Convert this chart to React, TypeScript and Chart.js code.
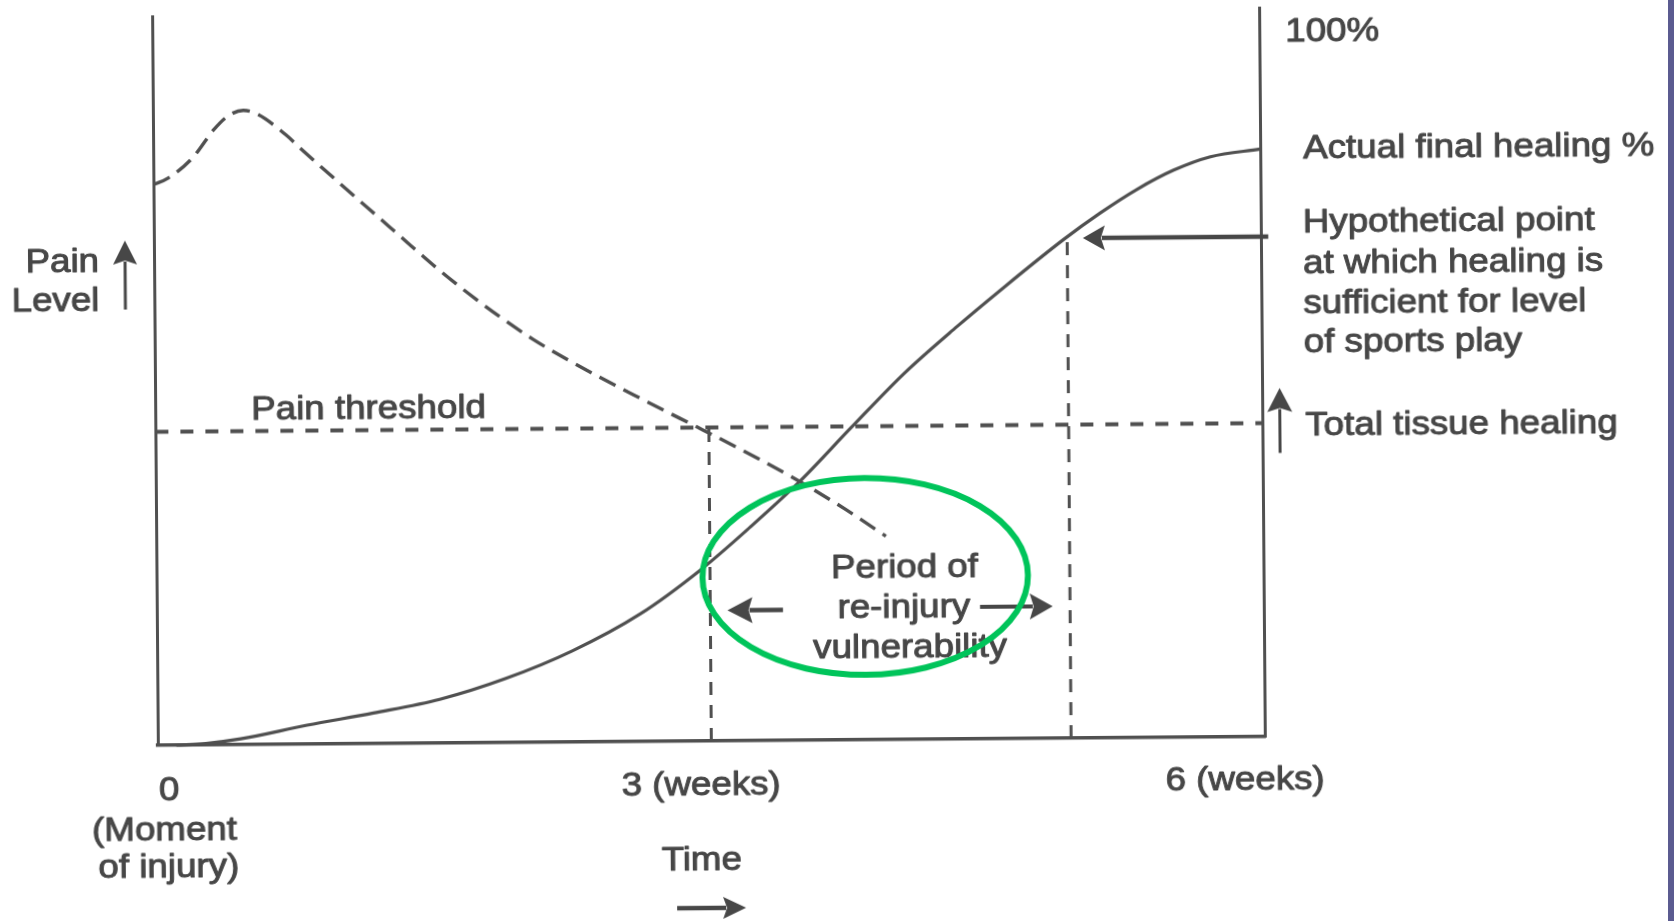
import React, { useEffect, useRef } from 'react';
import { Chart, registerables } from 'chart.js';

Chart.register(...registerables);

// ---- data (weeks on x, level / healing % on y) ----
const painWeeks = [0, 0.08, 0.215, 0.33, 0.41, 0.49, 0.564, 0.72, 0.8, 0.97, 1.156, 1.334, 1.512, 1.695, 1.873, 2.05, 2.234, 2.412, 2.59, 2.773, 2.935, 3.243, 3.49, 3.739, 3.955];
const painLevel = [76.9, 77.8, 80.6, 84.4, 86.3, 87.0, 86.5, 83.6, 81.7, 77.8, 73.6, 69.6, 65.6, 61.8, 58.4, 55.3, 52.5, 50.0, 47.6, 45.2, 43.1, 39.0, 35.5, 31.6, 27.9];

const healWeeks = [0.1, 0.26, 0.45, 0.81, 1.17, 1.53, 1.89, 2.25, 2.62, 2.95, 3.22, 3.49, 3.77, 4.06, 4.35, 4.58, 4.93, 5.13, 5.33, 5.53, 5.73, 6.0];
const healPercent = [0, 0.2, 0.8, 2.6, 4.2, 6.0, 8.8, 12.5, 17.5, 23.5, 29.3, 35.5, 42.8, 50.2, 56.6, 61.4, 68.4, 72.0, 75.2, 77.8, 79.6, 80.6];

const thresholdWeeks = [0, 6];
const thresholdLevel = 43;

const markerWeeks = [3, 4.95];
const markerTops = [43, 68.6];

const hypotheticalLevel = 68.6;
const hypotheticalArrowWeeks = [6.04, 5.035];
const periodArrowLevel = [17.9, 18.1];
const periodArrowLeftWeeks = [3.394, 3.093];
const periodArrowRightWeeks = [4.462, 4.856];
const tissueArrowWeeks = 6.095;
const tissueArrowLevels = [38.9, 47.8];

const ellipseCenter = [3.841, 22.4];
const ellipseRadius = [0.882, 13.5];

// ---- text ----
const xTickLabels = ['0', '3 (weeks)', '6 (weeks)'];
const zeroSubLabels = ['(Moment', 'of injury)'];
const xAxisTitle = 'Time';
const yAxisTitle = ['Pain', 'Level'];
const topLabel = '100%';
const finalLabel = 'Actual final healing %';
const hypoLabel = ['Hypothetical point', 'at which healing is', 'sufficient for level', 'of sports play'];
const tissueLabel = 'Total tissue healing';
const thresholdLabel = 'Pain threshold';
const periodLabel = ['Period of', 're-injury', 'vulnerability'];

// ---- style ----
const INK = '#474747';
const LINE = '#505050';
const FONT = '34px "Liberation Sans", Arial, sans-serif';
const SX = 1.08;

function drawText(ctx: CanvasRenderingContext2D, t: string, x: number, y: number, align: CanvasTextAlign) {
  ctx.save();
  ctx.translate(x, y);
  ctx.scale(SX, 1);
  ctx.font = FONT;
  ctx.fillStyle = INK;
  ctx.strokeStyle = INK;
  ctx.lineWidth = 1;
  ctx.lineJoin = 'round';
  ctx.textAlign = align;
  ctx.textBaseline = 'alphabetic';
  ctx.fillText(t, 0, 0);
  ctx.strokeText(t, 0, 0);
  ctx.restore();
}

function drawArrow(ctx: CanvasRenderingContext2D, x1: number, y1: number, x2: number, y2: number, head: number, half: number, w: number) {
  const ang = Math.atan2(y2 - y1, x2 - x1);
  const c = Math.cos(ang), s = Math.sin(ang);
  const bx = x2 - c * head, by = y2 - s * head;
  ctx.save();
  ctx.strokeStyle = INK;
  ctx.fillStyle = INK;
  ctx.lineWidth = w;
  ctx.beginPath();
  ctx.moveTo(x1, y1);
  ctx.lineTo(bx + c * 3, by + s * 3);
  ctx.stroke();
  ctx.beginPath();
  ctx.moveTo(x2, y2);
  ctx.lineTo(bx - s * half, by + c * half);
  ctx.lineTo(bx + c * 4, by + s * 4);
  ctx.lineTo(bx + s * half, by - c * half);
  ctx.closePath();
  ctx.fill();
  ctx.restore();
}

const annotations = {
  id: 'annotations',
  afterDatasetsDraw(chart: any) {
    const ctx: CanvasRenderingContext2D = chart.ctx;
    const xs = chart.scales.x;
    const ys = chart.scales.y;
    const X = (v: number) => xs.getPixelForValue(v);
    const Y = (v: number) => ys.getPixelForValue(v);

    // axis-side labels
    drawText(ctx, yAxisTitle[0], 100, 267, 'right');
    drawText(ctx, yAxisTitle[1], 100, 306, 'right');
    drawArrow(ctx, 126, 305, 126, 236, 24, 12, 3);

    drawText(ctx, thresholdLabel, 251, 416, 'left');
    drawText(ctx, topLabel, 1288, 46, 'left');
    drawText(ctx, finalLabel, 1305, 163, 'left');
    const hypoY = [237, 278, 318, 357];
    hypoLabel.forEach((t, i) => drawText(ctx, t, 1304, hypoY[i], 'left'));
    drawText(ctx, tissueLabel, 1305, 440, 'left');
    drawArrow(ctx, X(tissueArrowWeeks), Y(tissueArrowLevels[0]), X(tissueArrowWeeks), Y(tissueArrowLevels[1]), 24, 12.5, 3);

    // hypothetical point arrow
    drawArrow(ctx, X(hypotheticalArrowWeeks[0]), Y(hypotheticalLevel), X(hypotheticalArrowWeeks[1]), Y(hypotheticalLevel), 22, 12.5, 4.5);

    // period of re-injury
    const periodPos = [[903, 579], [902, 619], [908, 659]];
    periodLabel.forEach((t, i) => drawText(ctx, t, periodPos[i][0], periodPos[i][1], 'center'));
    drawArrow(ctx, X(periodArrowLeftWeeks[0]), Y(periodArrowLevel[0]), X(periodArrowLeftWeeks[1]), Y(periodArrowLevel[0]), 25, 13, 4.5);
    drawArrow(ctx, X(periodArrowRightWeeks[0]), Y(periodArrowLevel[1]), X(periodArrowRightWeeks[1]), Y(periodArrowLevel[1]), 23, 13, 4);

    // x tick labels
    const tickPos = [[166, 796], [698, 795], [1242, 794]];
    xTickLabels.forEach((t, i) => drawText(ctx, t, tickPos[i][0], tickPos[i][1], 'center'));
    drawText(ctx, zeroSubLabels[0], 161, 836, 'center');
    drawText(ctx, zeroSubLabels[1], 165, 873, 'center');
    drawText(ctx, xAxisTitle, 698, 870, 'center');
    drawArrow(ctx, 673, 908, 742, 908, 23, 11, 4.5);

    // highlight ellipse
    ctx.save();
    ctx.strokeStyle = '#00c45a';
    ctx.lineWidth = 6;
    ctx.beginPath();
    const cx = X(ellipseCenter[0]), cy = Y(ellipseCenter[1]);
    const rx = X(ellipseCenter[0] + ellipseRadius[0]) - cx;
    const ry = cy - Y(ellipseCenter[1] + ellipseRadius[1]);
    ctx.ellipse(cx, cy, rx, ry, 0, 0, Math.PI * 2);
    ctx.stroke();
    ctx.restore();
  },
};

function pts(xa: number[], ya: number[]) {
  return xa.map((x, i) => ({ x, y: ya[i] }));
}

export default function App() {
  const ref = useRef<HTMLCanvasElement | null>(null);
  useEffect(() => {
    if (!ref.current) return;
    const base = { pointRadius: 0, borderColor: LINE, fill: false, clip: false as any };
    const chart = new Chart(ref.current, {
      type: 'line',
      data: {
        datasets: [
          { ...base, label: 'Pain', data: pts(painWeeks, painLevel), borderWidth: 3.4, borderDash: [18, 9], cubicInterpolationMode: 'monotone' },
          { ...base, label: 'Healing', data: pts(healWeeks, healPercent), borderWidth: 3.2, cubicInterpolationMode: 'monotone' },
          { ...base, label: 'Threshold', data: thresholdWeeks.map((x) => ({ x, y: thresholdLevel })), borderWidth: 4, borderDash: [13, 12] },
          { ...base, label: 'm1', data: [{ x: markerWeeks[0], y: 0 }, { x: markerWeeks[0], y: markerTops[0] }], borderWidth: 3, borderDash: [13, 10] },
          { ...base, label: 'm2', data: [{ x: markerWeeks[1], y: 0 }, { x: markerWeeks[1], y: markerTops[1] }], borderWidth: 3, borderDash: [13, 10] },
        ],
      },
      options: {
        responsive: false,
        animation: false,
        devicePixelRatio: 1,
        layout: { padding: { left: 155, right: 412, top: 12, bottom: 180 } },
        plugins: { legend: { display: false }, tooltip: { enabled: false }, title: { display: false } },
        scales: {
          x: {
            type: 'linear', min: 0, max: 6,
            grid: { display: false }, ticks: { display: false },
            border: { display: true, color: LINE, width: 3.5 },
            afterFit: (s: any) => { s.height = 0; },
          },
          y: {
            type: 'linear', min: 0, max: 100, position: 'left',
            grid: { display: false }, ticks: { display: false },
            border: { display: true, color: LINE, width: 3 },
            afterFit: (s: any) => { s.width = 0; },
          },
          y2: {
            type: 'linear', min: 0, max: 100, position: 'right',
            grid: { display: false }, ticks: { display: false },
            border: { display: true, color: LINE, width: 3 },
            afterFit: (s: any) => { s.width = 0; },
          },
        },
      } as any,
      plugins: [annotations],
    });
    return () => chart.destroy();
  }, []);

  return (
    <div style={{ position: 'fixed', left: 0, top: 0, width: 1674, height: 921, background: '#fff', overflow: 'hidden' }}>
      <canvas
        ref={ref}
        width={1674}
        height={921}
        style={{ position: 'absolute', left: 0, top: 0, width: 1674, height: 921, transform: 'rotate(-0.45deg)', transformOrigin: '707px 380px' }}
      />
      <div style={{ position: 'absolute', left: 1668, top: 0, width: 6, height: 921, background: '#5b5b90' }} />
    </div>
  );
}
